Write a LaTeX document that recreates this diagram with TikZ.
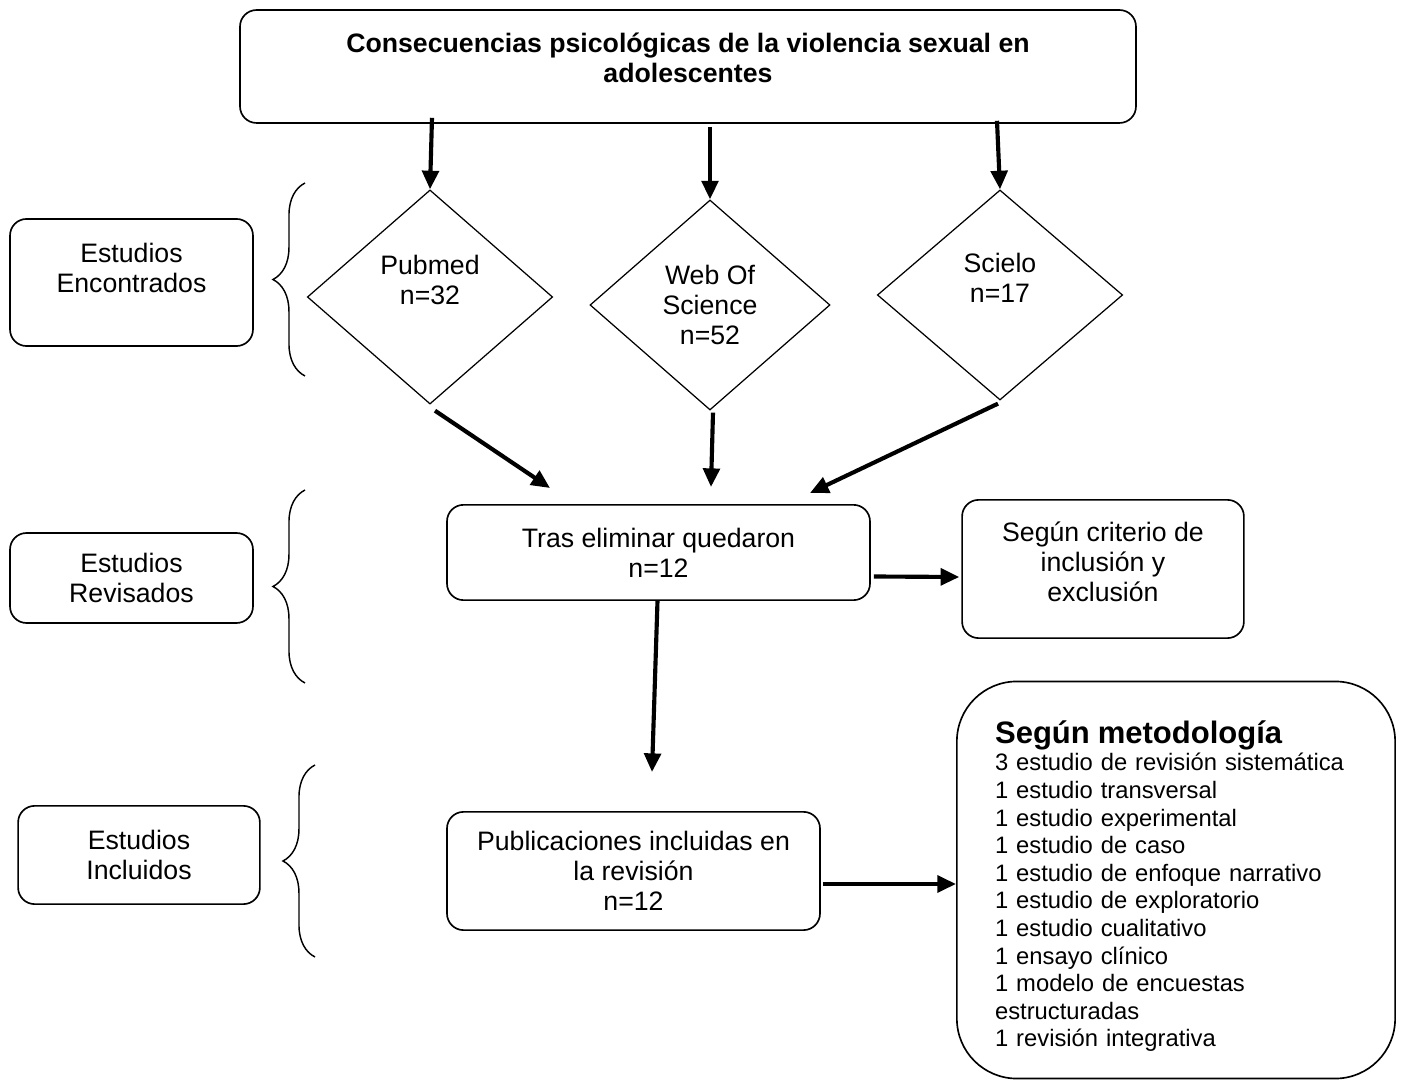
\documentclass[tikz,border=0pt]{standalone}
\usepackage{fontspec}
\setmainfont{Liberation Sans}
\usepackage{tikz}
\usetikzlibrary{arrows.meta, shapes, calc, decorations.pathreplacing}

\newcommand{\liftup}[2]{\raisebox{0pt}[\height][\dimexpr\depth+#1\relax]{\begin{tabular}{@{}c@{}}#2\end{tabular}}}

\begin{document}
\begin{tikzpicture}[x=0.017cm, y=-0.017cm, >={Triangle[length=9pt, width=8pt]},
	flecha/.style={->, line width=2pt},
	caja/.style={draw, rounded corners=8pt, line width=0.8pt, inner sep=0pt, align=center, font=\fontsize{12.9}{14.5}\selectfont},
	rombo/.style={draw, diamond, line width=0.6pt, inner sep=0pt, align=center, font=\fontsize{12.9}{14.5}\selectfont},
	llave/.style={decorate, decoration={brace, amplitude=15.5pt}, line width=0.7pt}]
		\useasboundingbox (0, 0) rectangle (1403, 1080);

		\node[caja, minimum width=15.23cm, minimum height=1.92cm] (tema) at (688, 66.5) {\liftup{4.8pt}{\bfseries Consecuencias psicológicas de la violencia sexual en\\ \bfseries adolescentes}};

		\node[rombo, minimum width=4.17cm, minimum height=3.64cm] (pub) at (430, 297) {\liftup{13pt}{Pubmed\\n=32}};
		\node[rombo, minimum width=4.08cm, minimum height=3.57cm] (wos) at (710, 305) {Web Of\\Science\\n=52};
		\node[rombo, minimum width=4.17cm, minimum height=3.57cm] (sci) at (1000, 295) {\liftup{13pt}{Scielo\\n=17}};

		\node[caja, minimum width=7.19cm, minimum height=1.62cm] (tras) at (658.5, 552.5) {Tras eliminar quedaron\\n=12};
		\node[caja, minimum width=4.79cm, minimum height=2.35cm] (crit) at (1103, 569) {\liftup{3.5pt}{Según criterio de\\inclusión y\\exclusión}};
		\node[caja, minimum width=6.34cm, minimum height=2.01cm] (publ) at (633.5, 871) {Publicaciones incluidas en\\la revisión\\n=12};
		\node[caja, rounded corners=29pt, minimum width=7.45cm, minimum height=6.75cm, text width=6.15cm, align=left, font=\fontsize{11.5}{13.35}\selectfont] (metod) at (1176, 880) {\rule{0pt}{17pt}\raisebox{0pt}[\height][0pt]{\fontsize{15}{17}\selectfont\bfseries Según metodología}\\
			3 estudio de revisión sistemática\\
			1 estudio transversal\\
			1 estudio experimental\\
			1 estudio de caso\\
			1 estudio de enfoque narrativo\\
			1 estudio de exploratorio\\
			1 estudio cualitativo\\
			1 ensayo clínico\\
			1 modelo de encuestas\\
			estructuradas\\
			1 revisión integrativa};

		\node[caja, minimum width=4.13cm, minimum height=2.16cm] (enc) at (131.5, 282.5) {\liftup{10.6pt}{Estudios\\Encontrados}};
		\node[caja, minimum width=4.13cm, minimum height=1.53cm] (rev) at (131.5, 578) {Estudios\\Revisados};
		\node[caja, minimum width=4.11cm, minimum height=1.67cm] (inc) at (139, 855) {Estudios\\Incluidos};

		\draw[llave] (305, 376) -- (305, 183);
		\draw[llave] (305, 683) -- (305, 490);
		\draw[llave] (315, 957) -- (315, 765);

		\coordinate (t1) at (550, 488);
		\coordinate (t2) at (711, 487);
		\coordinate (t3) at (810, 493);
		\coordinate (t4) at (652, 772);

		\draw[flecha] ($(tema.south -| pub.north)+(2, -6)$) -- (pub.north);
		\draw[flecha] ($(tema.south -| wos.north)+(0, 3)$) -- (wos.north);
		\draw[flecha] ($(tema.south -| sci.north)+(-3, -3)$) -- (sci.north);
		\draw[flecha] ($(pub.south)+(5, 6)$) -- (t1);
		\draw[flecha] ($(wos.south)+(3, 2)$) -- (t2);
		\draw[flecha] ($(sci.south)+(-2, 3)$) -- (t3);
		\draw[flecha] ($(tras.east)+(3, 24)$) -- ($(crit.west)+(-2, 8)$);
		\draw[flecha] ($(tras.south)+(-1, 0)$) -- (t4);
		\draw[flecha] ($(publ.east)+(2, 13)$) -- ($(metod.west)+(0, 4)$);
	\end{tikzpicture}
\end{document}
